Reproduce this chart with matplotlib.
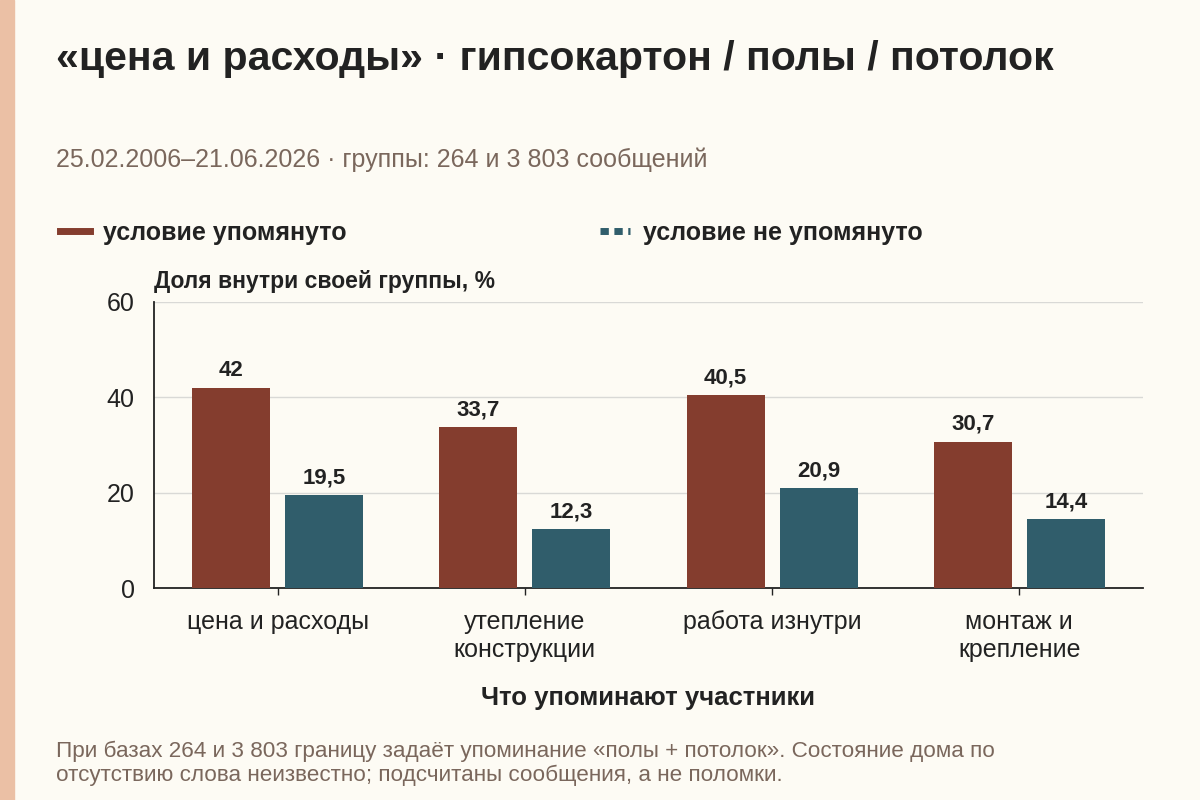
import matplotlib.pyplot as plt
import numpy as np
from matplotlib.lines import Line2D

plt.rcParams['font.family'] = ['Liberation Sans', 'DejaVu Sans']

categories = ["цена и расходы", "утепление\nконструкции", "работа изнутри", "монтаж и\nкрепление"]
mentioned = [42, 33.7, 40.5, 30.7]
not_mentioned = [19.5, 12.3, 20.9, 14.4]
mentioned_labels = ["42", "33,7", "40,5", "30,7"]
not_mentioned_labels = ["19,5", "12,3", "20,9", "14,4"]

BG = "#fdfbf4"
RED = "#843d2e"
TEAL = "#305d6b"
TEXT = "#222222"
MUTED = "#7a675c"

fig = plt.figure(figsize=(12, 8), dpi=100, facecolor=BG)
ax = fig.add_axes([0.1283, 0.265, 0.8242, 0.3575], facecolor=BG)

# left accent stripe
fig.patches.append(plt.Rectangle((0, 0), 0.012, 1, transform=fig.transFigure,
                                 color="#ebc0a5", zorder=0))

x = np.arange(len(categories))
w = 0.316
off = 0.188
b1 = ax.bar(x - off, mentioned, w, color=RED, zorder=3)
b2 = ax.bar(x + off, not_mentioned, w, color=TEAL, zorder=3)

for bars, labels in ((b1, mentioned_labels), (b2, not_mentioned_labels)):
    for rect, lab in zip(bars, labels):
        ax.annotate(lab, (rect.get_x() + rect.get_width() / 2, rect.get_height()),
                    xytext=(0, 5), textcoords="offset points", ha="center", va="bottom",
                    fontsize=16, fontweight="bold", color=TEXT)

ax.set_xlim(-0.5, 3.5)
ax.set_ylim(0, 60)
ax.set_yticks([0, 20, 40, 60])
ax.set_xticks(x)
ax.set_xticklabels(categories, fontsize=18, color=TEXT, linespacing=1.2)
ax.tick_params(axis="y", length=0, labelsize=18, labelcolor=TEXT, pad=14)
ax.tick_params(axis="x", length=5, width=1, color=TEXT, pad=11)
ax.grid(axis="y", color="#d9d9d6", linewidth=1, zorder=0)
for s in ("top", "right"):
    ax.spines[s].set_visible(False)
ax.spines["left"].set_color(TEXT)
ax.spines["bottom"].set_color(TEXT)
ax.spines["left"].set_linewidth(1.3)
ax.spines["bottom"].set_linewidth(1.3)

ax.set_xlabel("Что упоминают участники", fontsize=18.5, fontweight="bold", color=TEXT, labelpad=17)
ax.text(0, 1.03, "Доля внутри своей группы, %", transform=ax.transAxes,
        fontsize=16.5, fontweight="bold", color=TEXT, ha="left", va="bottom")

fig.text(0.047, 0.926, "«цена и расходы» · гипсокартон / полы / потолок",
         fontsize=29.5, fontweight="bold", color=TEXT, va="center")
fig.text(0.047, 0.800, "25.02.2006–21.06.2026 · группы: 264 и 3 803 сообщений",
         fontsize=18, color=MUTED, va="center")

handles = [Line2D([0], [0], color=RED, lw=5),
           Line2D([0], [0], color=TEAL, lw=5, linestyle=(0, (1.2, 0.8)))]
leg_kw = dict(loc="center left", frameon=False, prop={"size": 18, "weight": "bold"},
              handlelength=1.2, handletextpad=0.5, borderpad=0, borderaxespad=0,
              labelcolor=TEXT)
fig.legend(handles[:1], ["условие упомянуто"], bbox_to_anchor=(0.0503, 0.709), **leg_kw)
fig.legend(handles[1:], ["условие не упомянуто"], bbox_to_anchor=(0.5003, 0.709), **leg_kw)

fig.text(0.047, 0.046,
         "При базах 264 и 3 803 границу задаёт упоминание «полы + потолок». Состояние дома по\n"
         "отсутствию слова неизвестно; подсчитаны сообщения, а не поломки.",
         fontsize=16.2, color=MUTED, va="center", linespacing=1.2)

fig.savefig("out.png", dpi=100, facecolor=BG)
